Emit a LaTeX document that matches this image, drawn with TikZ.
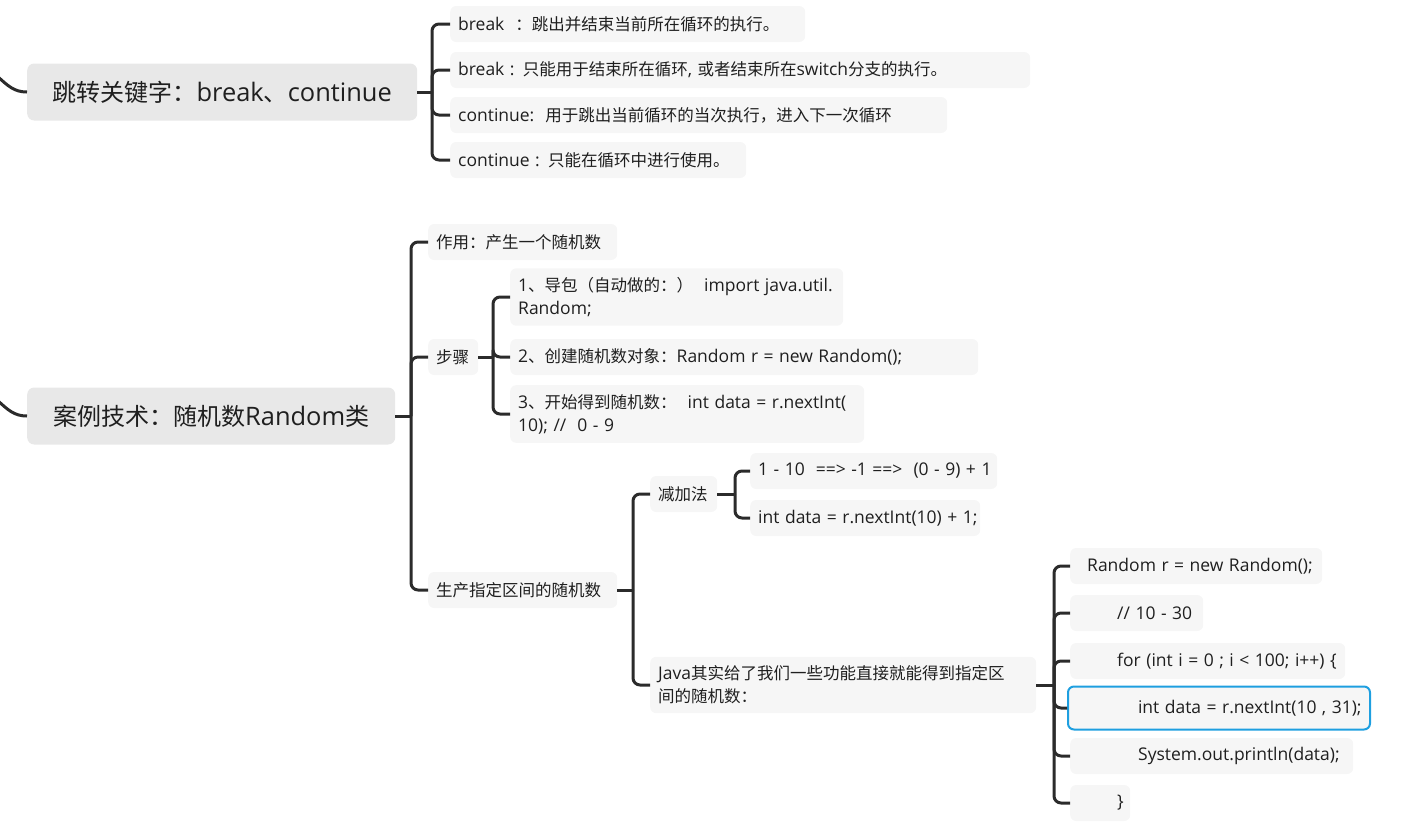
\documentclass[tikz,border=0pt]{standalone}
\usepackage{fontspec}
\setmainfont{Noto Sans CJK SC}
\newfontfamily\latinfont[Scale=1.06]{Open Sans}
\newfontfamily\cjkfont{Noto Sans CJK SC}
% ASCII in Open Sans, the rest in Noto Sans CJK
\newXeTeXintercharclass\latclass
\newcount\charno
\charno="21
\loop
  \XeTeXcharclass\charno=\latclass
  \ifnum\charno<"7E \advance\charno by 1
\repeat
\XeTeXinterchartokenstate=1
\XeTeXinterchartoks 0 \latclass = {\latinfont}
\XeTeXinterchartoks 4095 \latclass = {\latinfont}
\XeTeXinterchartoks \latclass 0 = {\cjkfont}
\XeTeXinterchartoks 4095 0 = {\cjkfont}
\usetikzlibrary{positioning}

\definecolor{linegray}{HTML}{2B2B2B}
\definecolor{topicgray}{HTML}{E8E8E8}
\definecolor{leafgray}{HTML}{F6F6F6}
\definecolor{selblue}{HTML}{1E9FE0}
\definecolor{inkgray}{HTML}{1F1F1F}

\tikzset{
  topic/.style={anchor=west, rounded corners=7pt, fill=topicgray, text=inkgray,
    minimum height=57pt, inner xsep=0pt, font=\fontsize{24}{28}\selectfont},
  leaf/.style={anchor=west, rounded corners=6pt, fill=leafgray, text=inkgray,
    minimum height=36pt, inner xsep=8pt, inner ysep=9pt, align=left,
    font=\fontsize{16.5}{23}\selectfont, text width=#1},
  leaf/.default=100pt,
  branch/.style={draw=linegray, line width=3pt, rounded corners=7pt},
}

\begin{document}
\begin{tikzpicture}[x=1pt, y=-1pt]
  \useasboundingbox (0,0) rectangle (1422,828);

  % break / continue
  \node[topic, minimum width=390pt] (jump) at (27,92) {跳转关键字：break、continue};
  \node[leaf=339pt] (jump1) at (450,24) {\mbox{break\ \ ：跳出并结束当前所在循环的执行。}};
  \node[leaf=564pt] (jump2) at (450,70) {\mbox{break : 只能用于结束所在循环, 或者结束所在switch分支的执行。}};
  \node[leaf=481pt] (jump3) at (450,115) {\mbox{continue:\ \ 用于跳出当前循环的当次执行，进入下一次循环}};
  \node[leaf=280pt] (jump4) at (450,160) {\mbox{continue : 只能在循环中进行使用。}};

  % Random
  \node[topic, minimum width=368pt] (rand) at (27,416) {案例技术：随机数Random类};
  \node[leaf=173pt] (use) at (428,242) {作用：产生一个随机数};
  \node[leaf=34pt] (steps) at (428,357) {步骤};
  \node[leaf=173pt] (range) at (428,590) {生产指定区间的随机数};

  \node[leaf=317pt] (step1) at (510,297) {\mbox{1、导包（自动做的：）\ \ import java.util.}\\Random;};
  \node[leaf=452pt] (step2) at (510,357) {\mbox{2、创建随机数对象：Random r = new Random();}};
  \node[leaf=338pt] (step3) at (510,414) {\mbox{3、开始得到随机数：\ \ int data = r.nextInt(}\\10); //\ \ 0 - 9};

  \node[leaf=51pt] (shift) at (650,494) {减加法};
  \node[leaf=370pt] (java) at (650,685) {\mbox{Java其实给了我们一些功能直接就能得到指定区}\\间的随机数：};

  \node[leaf=231pt] (shift1) at (750,471) {\mbox{1 - 10\ \ ==> -1 ==>\ \ (0 - 9) + 1}};
  \node[leaf=214pt] (shift2) at (750,518) {\mbox{int data = r.nextInt(10) + 1;}};

  \node[leaf=236pt] (code1) at (1070,566) {\hspace*{9pt}\mbox{Random r = new Random();}};
  \node[leaf=117pt] (code2) at (1070,613) {\hspace*{39pt}\mbox{// 10 - 30}};
  \node[leaf=259pt] (code3) at (1070,661) {\hspace*{39pt}\mbox{for (int i = 0 ; i < 100; i++) \{}};
  \node[leaf=286pt, draw=selblue, line width=2pt, minimum height=43pt] (code4) at (1067,708) {\hspace*{62pt}\mbox{int data = r.nextInt(10 , 31);}};
  \node[leaf=267pt] (code5) at (1070,756) {\hspace*{60pt}\mbox{System.out.println(data);}};
  \node[leaf=44pt] (code6) at (1070,803) {\hspace*{39pt}\}};

  % trunks
  \coordinate (jumpIn) at (-4,75);
  \coordinate (randIn) at (-4,399);
  \coordinate (jumpT) at (432,92);
  \coordinate (randT) at (411,416);
  \coordinate (stepsT) at (493,357);
  \coordinate (rangeT) at (633,590);
  \coordinate (shiftT) at (735,494);
  \coordinate (javaT) at (1054,685);

  \draw[branch] (jumpIn) .. controls (8,86) and (14,92) .. (jump.west);
  \draw[branch] (randIn) .. controls (8,410) and (14,416) .. (rand.west);

  \draw[branch] (jump.east) -- (jumpT);
  \foreach \n in {1,...,4} \draw[branch] (jumpT) |- (jump\n.west);

  \draw[branch] (rand.east) -- (randT);
  \foreach \c in {use,steps,range} \draw[branch] (randT) |- (\c.west);

  \draw[branch] (steps.east) -- (stepsT);
  \foreach \n in {1,2,3} \draw[branch] (stepsT) |- (step\n.west);

  \draw[branch] (range.east) -- (rangeT);
  \foreach \c in {shift,java} \draw[branch] (rangeT) |- (\c.west);

  \draw[branch] (shift.east) -- (shiftT);
  \foreach \n in {1,2} \draw[branch] (shiftT) |- (shift\n.west);

  \draw[branch] (java.east) -- (javaT);
  \foreach \n in {1,...,6} \draw[branch] (javaT) |- (code\n.west);
\end{tikzpicture}
\end{document}
